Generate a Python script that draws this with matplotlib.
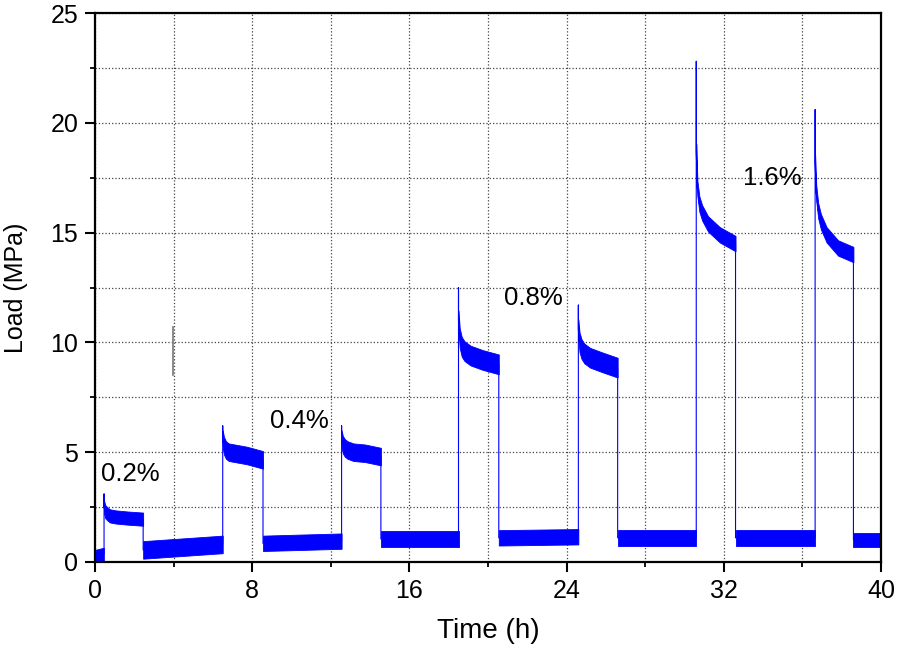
import numpy as np
import matplotlib
matplotlib.use("Agg")
import matplotlib.pyplot as plt
from matplotlib.ticker import MultipleLocator

plt.rcParams['font.family'] = ['Liberation Sans', 'DejaVu Sans']

# ---- data ----
# loading holds: switch-on time, switch-off time, initial spike, hold values
t_on = [0.46, 6.5, 12.55, 18.5, 24.6, 30.6, 36.65]
t_off = [2.45, 8.55, 14.55, 20.55, 26.6, 32.6, 38.6]
peak = [3.1, 6.2, 6.2, 12.5, 11.7, 22.8, 20.6]
hold_frac = [0.0, 0.03, 0.08, 0.15, 0.3, 0.6, 1.0]
hold_vals = [
    [2.5, 2.3, 2.2, 2.1, 2.05, 2.0, 1.95],
    [5.6, 5.3, 5.1, 5.0, 4.95, 4.85, 4.65],
    [5.6, 5.35, 5.2, 5.1, 5.0, 4.95, 4.8],
    [11.0, 10.2, 9.8, 9.6, 9.4, 9.2, 9.0],
    [10.6, 10.0, 9.7, 9.5, 9.3, 9.1, 8.85],
    [18.7, 17.0, 16.3, 15.9, 15.4, 14.9, 14.5],
    [18.2, 16.8, 16.0, 15.5, 14.9, 14.3, 14.0],
]
hold_noise = [0.3, 0.4, 0.4, 0.45, 0.45, 0.35, 0.35]

# unloaded intervals: start, end, start value, end value, noise half-width
low_start = [0.0, 2.45, 8.55, 14.55, 20.55, 26.6, 32.6, 38.6]
low_end = [0.45, 6.5, 12.55, 18.5, 24.6, 30.6, 36.65, 40.0]
low_v0 = [0.25, 0.55, 0.85, 1.05, 1.1, 1.1, 1.1, 1.0]
low_v1 = [0.35, 0.8, 0.95, 1.05, 1.15, 1.1, 1.1, 1.0]
low_noise = [0.3, 0.4, 0.35, 0.35, 0.35, 0.35, 0.35, 0.3]

# stray gray trace near t = 4 h
stray_t = [3.97, 3.97]
stray_v = [8.5, 10.7]

labels = ["0.2%", "0.4%", "0.8%", "1.6%"]
label_t = [1.8, 10.4, 22.3, 34.45]
label_v = [4.0, 6.4, 12.0, 17.5]

# ---- build the trace ----
segs = []
for i in range(len(low_start)):
    segs.append(("low", low_start[i], low_end[i], [low_v0[i], low_v1[i]], [0, 1], low_noise[i]))
    if i < len(t_on):
        segs.append(("hold", t_on[i], t_off[i], hold_vals[i], hold_frac, hold_noise[i], peak[i]))

fig = plt.figure(figsize=(8.98, 6.45), dpi=100)
ax = fig.add_axes([0.1058, 0.1287, 0.8752, 0.8511])

line_t, line_v = [], []
for s in segs:
    kind, a, b, vals, fr, hw = s[:6]
    tt = [a + f * (b - a) for f in fr]
    vv = list(vals)
    if kind == "hold":
        line_t += [a, a]
        line_v += [line_v[-1] if line_v else 0, s[6]]
    line_t += tt
    line_v += vv
    ax.fill_between(tt, [v - hw for v in vv], [v + hw for v in vv],
                    color='#0000ff', lw=0.6, edgecolor='#0000ff')

ax.plot(line_t, line_v, color='#0000ff', lw=0.8)
ax.plot(stray_t, stray_v, color='#777777', lw=1.2)

for lab, x, y in zip(labels, label_t, label_v):
    ax.text(x, y, lab, fontsize=18.5, ha='center', va='center')

ax.set_xlim(0, 40)
ax.set_ylim(0, 25)
ax.xaxis.set_major_locator(MultipleLocator(8))
ax.xaxis.set_minor_locator(MultipleLocator(4))
ax.yaxis.set_major_locator(MultipleLocator(5))
ax.yaxis.set_minor_locator(MultipleLocator(2.5))
ax.grid(True, which='both', linestyle=':', color='#444444', lw=0.9)
ax.set_axisbelow(True)
ax.tick_params(which='major', direction='out', length=7, width=1.5, labelsize=18, pad=5)
ax.tick_params(which='minor', direction='out', length=3.6, width=1.3)
for sp in ax.spines.values():
    sp.set_linewidth(1.6)
ax.set_xlabel("Time (h)", fontsize=20, labelpad=11)
ax.set_ylabel("Load (MPa)", fontsize=18, labelpad=16)

fig.savefig("out.png", dpi=100)
